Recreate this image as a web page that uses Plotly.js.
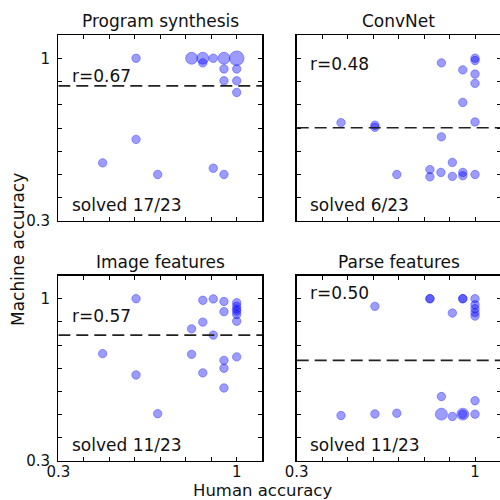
<!DOCTYPE html>
<html>
<head>
<meta charset="utf-8">
<script src="https://cdn.plot.ly/plotly-3.0.1.min.js"></script>
<style>
html,body{margin:0;padding:0;overflow:hidden;background:#fff;}
#chart{width:501px;height:500px;}
</style>
</head>
<body>
<div id="chart"></div>
<script>
// ---- data ----
var panelTitles = ["Program synthesis", "ConvNet", "Image features", "Parse features"];
var rLabels = ["r=0.67", "r=0.48", "r=0.57", "r=0.50"];
var solvedLabels = ["solved 17/23", "solved 6/23", "solved 11/23", "solved 11/23"];
var thresholds = [0.881, 0.701, 0.843, 0.734];
var rLabelY = [0.925, 0.975, 0.925, 1.026];

var tickValues = [0.3, 0.4, 0.5, 0.6, 0.7, 0.8, 0.9, 1.0];
var tickLabels = ["0.3", "", "", "", "", "", "", "1"];

var psHuman   = [0.605, 0.823, 0.867, 0.867, 0.908, 0.95, 1.0, 0.95, 1.0, 0.95, 1.0, 1.0, 0.605, 0.474, 0.69, 0.908, 0.95];
var psMachine = [1.0, 1.0, 1.0, 0.98, 1.0, 1.0, 1.0, 0.954, 0.954, 0.903, 0.903, 0.853, 0.651, 0.55, 0.5, 0.527, 0.5];
var psCount   = [1, 2, 2, 1, 1, 2, 3, 1, 1, 1, 1, 1, 1, 1, 1, 1, 1];

var cnHuman   = [0.474, 0.607, 0.607, 0.868, 0.952, 1.0, 1.0, 1.0, 1.0, 0.952, 1.0, 0.868, 0.911, 0.693, 0.823, 0.823, 0.866, 0.911, 0.952, 0.952, 1.0];
var cnMachine = [0.723, 0.712, 0.703, 0.98, 0.95, 1.0, 0.99, 0.932, 0.892, 0.81, 0.726, 0.662, 0.552, 0.5, 0.521, 0.49, 0.509, 0.492, 0.509, 0.495, 0.5];
var cnCount   = [1, 1, 1, 1, 1, 1, 1, 1, 1, 1, 1, 1, 1, 1, 1, 1, 1, 1, 1, 1, 1];

var ifHuman   = [0.605, 0.867, 0.908, 0.95, 1.0, 1.0, 1.0, 1.0, 1.0, 0.95, 1.0, 0.867, 0.823, 0.908, 0.474, 0.823, 1.0, 0.95, 0.95, 0.605, 0.867, 0.95, 0.69];
var ifMachine = [1.0, 0.993, 0.999, 0.988, 0.983, 0.968, 0.955, 0.946, 0.932, 0.944, 0.903, 0.899, 0.87, 0.843, 0.763, 0.76, 0.749, 0.734, 0.7, 0.671, 0.68, 0.615, 0.504];
var ifCount   = [1, 1, 1, 1, 1, 1, 1, 1, 1, 1, 1, 1, 1, 1, 1, 1, 1, 1, 1, 1, 1, 1, 1];

var pfHuman   = [0.607, 0.823, 0.823, 0.952, 0.952, 1.0, 1.0, 1.0, 1.0, 1.0, 0.911, 0.868, 1.0, 0.474, 0.607, 0.693, 0.868, 0.911, 0.952, 0.952, 1.0];
var pfMachine = [0.967, 1.0, 1.0, 1.0, 1.0, 1.0, 0.974, 0.957, 0.94, 0.925, 0.938, 0.578, 0.56, 0.496, 0.503, 0.506, 0.502, 0.492, 0.502, 0.502, 0.502];
var pfCount   = [1, 1, 1, 1, 1, 1, 1, 1, 1, 1, 1, 1, 1, 1, 1, 1, 2, 1, 2, 1, 1];

var humanSets = [psHuman, cnHuman, ifHuman, pfHuman];
var machineSets = [psMachine, cnMachine, ifMachine, pfMachine];
var countSets = [psCount, cnCount, ifCount, pfCount];

// ---- layout geometry ----
var W = 501, H = 500;
var colPx = [[58.3, 262.2], [296.7, 500.5]];
var rowPx = [[35, 221], [275.5, 461]];
var FONT = "DejaVu Sans, sans-serif";

var traces = [];
var layout = {
  width: W, height: H,
  margin: {l: 0, r: 0, t: 0, b: 0},
  paper_bgcolor: "#fff", plot_bgcolor: "#fff",
  showlegend: false,
  font: {family: FONT, size: 16, color: "#111"},
  shapes: [], annotations: []
};

for (var i = 0; i < 4; i++) {
  var col = i % 2, row = Math.floor(i / 2);
  var xa = "xaxis" + (i === 0 ? "" : (i + 1));
  var ya = "yaxis" + (i === 0 ? "" : (i + 1));
  var xr = "x" + (i === 0 ? "" : (i + 1));
  var yr = "y" + (i === 0 ? "" : (i + 1));
  var cp = colPx[col], rp = rowPx[row];
  var axCommon = {
    range: [0.3, 1.1], tickmode: "array", tickvals: tickValues,
    ticks: "inside", ticklen: 4, tickwidth: 1, tickcolor: "#000",
    showline: true, linecolor: "#000", linewidth: 1.3, mirror: "ticks",
    showgrid: false, zeroline: false, fixedrange: true,
    tickfont: {family: FONT, size: 15, color: "#111"}
  };
  layout[xa] = Object.assign({}, axCommon, {
    domain: [cp[0] / W, Math.min(cp[1] / W, 1)],
    anchor: yr,
    ticklabelstandoff: -3,
    ticktext: row === 1 ? tickLabels : tickLabels.map(function(){return "";})
  });
  layout[ya] = Object.assign({}, axCommon, {
    domain: [1 - rp[1] / H, 1 - rp[0] / H],
    anchor: xr,
    ticklabelstandoff: 4,
    ticktext: col === 0 ? tickLabels : tickLabels.map(function(){return "";})
  });

  traces.push({
    type: "scatter", mode: "markers",
    x: humanSets[i], y: machineSets[i],
    xaxis: xr, yaxis: yr,
    cliponaxis: false,
    marker: {
      size: countSets[i].map(function(c){ return 8.4 * Math.sqrt(c); }),
      color: "rgba(0,0,255,0.55)",
      line: {color: "rgba(0,0,255,0.55)", width: 1}
    },
    hoverinfo: "skip"
  });

  layout.shapes.push({
    type: "line", xref: xr, yref: yr,
    x0: 0.3, x1: 1.1, y0: thresholds[i], y1: thresholds[i],
    line: {color: "#222", width: 1.6, dash: "12px,6px"}
  });

  layout.annotations.push({
    text: panelTitles[i], xref: "paper", yref: "paper",
    x: ((cp[0] + cp[1]) / 2) / W, y: 1 - (rp[0] - 14) / H,
    xanchor: "center", yanchor: "middle", showarrow: false,
    font: {family: FONT, size: 17, color: "#111"}
  });
  layout.annotations.push({
    text: rLabels[i], xref: xr, yref: yr, x: 0.345, y: rLabelY[i],
    xanchor: "left", yanchor: "middle", showarrow: false,
    font: {family: FONT, size: 17, color: "#111"}
  });
  layout.annotations.push({
    text: solvedLabels[i], xref: xr, yref: yr, x: 0.345, y: 0.369,
    xanchor: "left", yanchor: "middle", showarrow: false,
    font: {family: FONT, size: 17, color: "#111"}
  });
}

layout.annotations.push({
  text: "Human accuracy", xref: "paper", yref: "paper",
  x: 262 / W, y: 1 - 490.8 / H, xanchor: "center", yanchor: "middle",
  borderpad: 0,
  showarrow: false, font: {family: FONT, size: 16.5, color: "#111"}
});
layout.annotations.push({
  text: "Machine accuracy", xref: "paper", yref: "paper",
  x: 18 / W, y: 1 - 250 / H, xanchor: "center", yanchor: "middle",
  textangle: -90, showarrow: false, font: {family: FONT, size: 17, color: "#111"}
});

Plotly.newPlot("chart", traces, layout, {staticPlot: true, displayModeBar: false});
</script>
</body>
</html>
